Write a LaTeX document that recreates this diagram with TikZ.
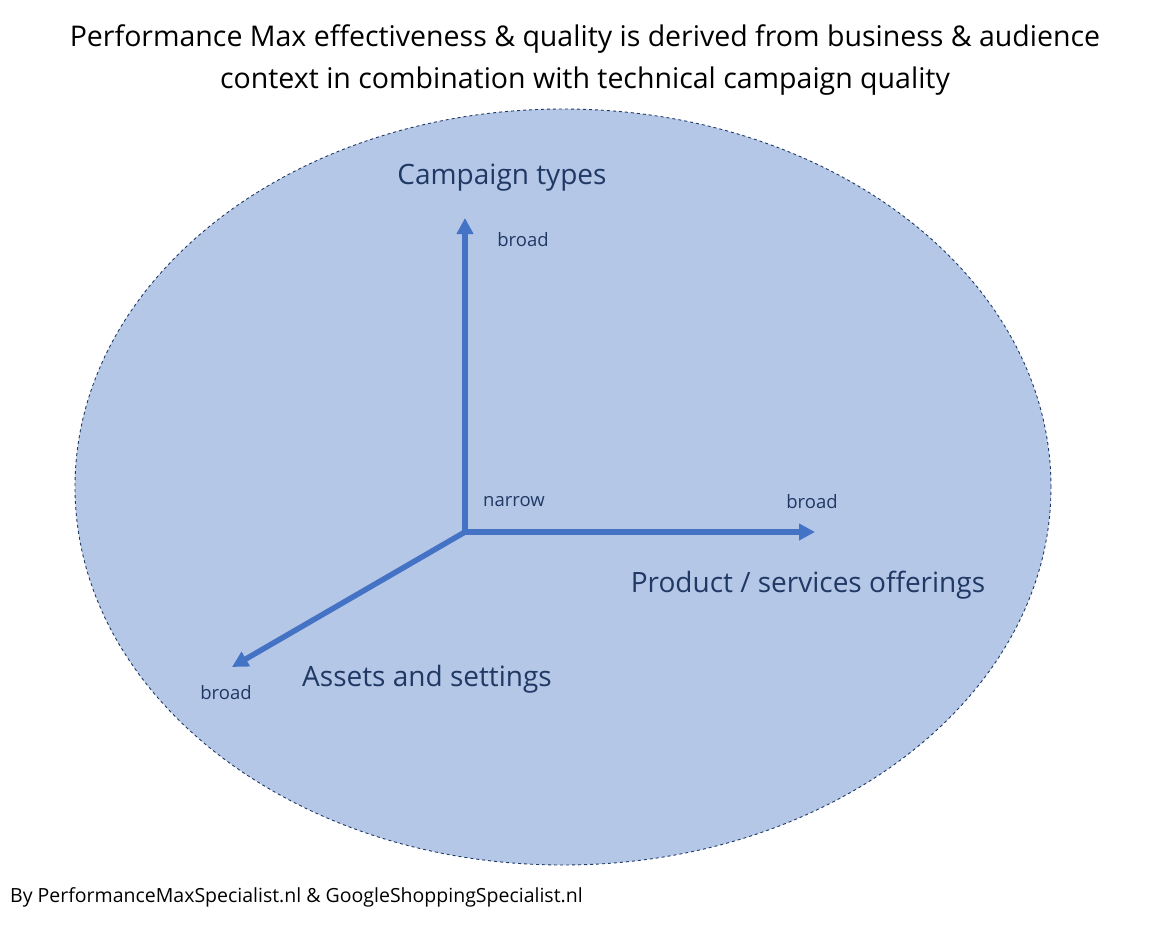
\documentclass[tikz,border=0pt]{standalone}
\usepackage{fontspec}
\setmainfont{Open Sans}
\usetikzlibrary{arrows.meta,shapes.geometric}
\definecolor{fillc}{HTML}{B4C7E7}
\definecolor{arr}{HTML}{4472C4}
\definecolor{txt}{HTML}{203864}
\begin{document}
\begin{tikzpicture}[x=1pt,y=-1pt,
  axis/.style={draw=arr,line width=5.5pt,-{Triangle[length=16pt,width=16pt]}},
  big/.style={text=txt,font=\fontsize{28}{32}\selectfont,inner sep=0},
  small/.style={text=txt,font=\fontsize{18.5}{22}\selectfont,inner sep=0}]
\useasboundingbox (0,0) rectangle (1171,931);
\fill[white] (0,0) rectangle (1171,931);
\node[draw=txt,dashed,fill=fillc,ellipse,minimum width=976pt,minimum height=756pt,line width=0.9pt] (ell) at (563,487) {};
\node[font=\fontsize{28.5}{42}\selectfont,align=center,inner sep=0] (title) at (585,60) {Performance Max effectiveness \& quality is derived from business \& audience\\context in combination with technical campaign quality};
\coordinate (o) at (465,532);
\coordinate (u) at (465,218);
\coordinate (r) at (815,532);
\coordinate (l) at (232,667);
\draw[axis] (o) -- (u);
\draw[axis] (o) -- (r);
\draw[axis] (o) -- (l);
\node[big] (ct) at (502,178) {Campaign types};
\node[big] (ps) at (808,585) {Product / services offerings};
\node[big] (as) at (427,679) {Assets and settings};
\node[small] (b1) at (523,240) {broad};
\node[small] (n) at (514,502) {narrow};
\node[small] (b2) at (812,502) {broad};
\node[small] (b3) at (226,693) {broad};
\node[font=\fontsize{19.5}{24}\selectfont,anchor=west,inner sep=0] (foot) at (10,897) {By PerformanceMaxSpecialist.nl \& GoogleShoppingSpecialist.nl};
\end{tikzpicture}
\end{document}
